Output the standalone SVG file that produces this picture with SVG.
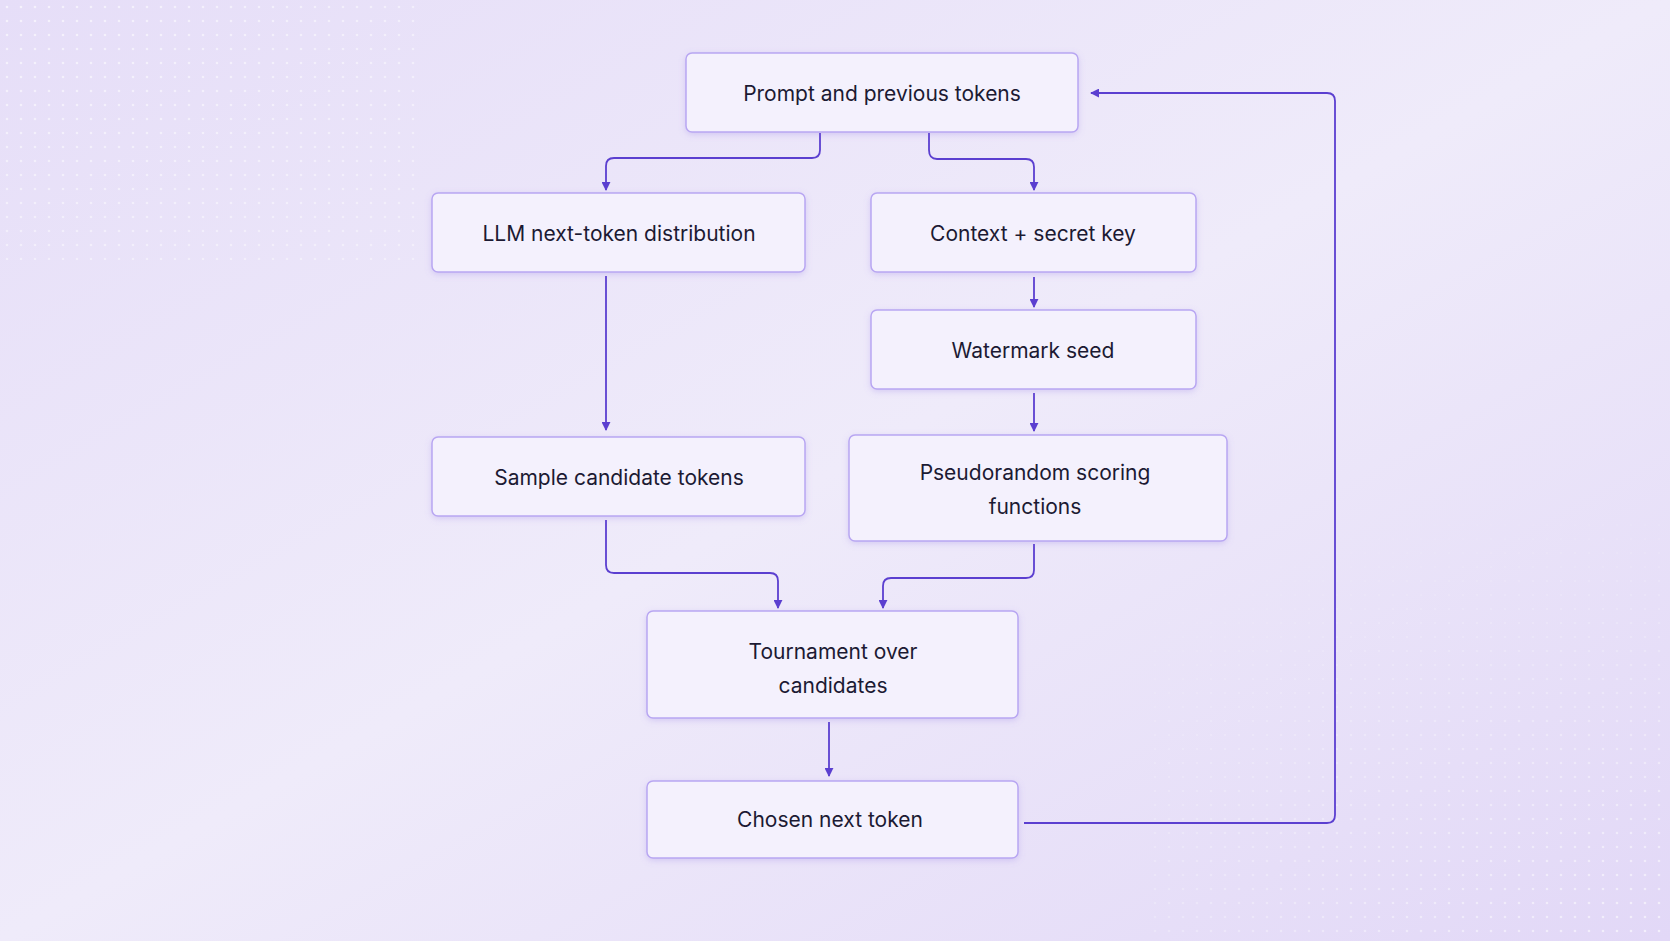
<svg xmlns="http://www.w3.org/2000/svg" width="1670" height="941" viewBox="0 0 1670 941">
<defs>
<linearGradient id="bg" x1="0" y1="0" x2="1" y2="1">
<stop offset="0" stop-color="#e6def8"/><stop offset="0.5" stop-color="#efebfa"/><stop offset="1" stop-color="#e2d8f7"/>
</linearGradient>
<pattern id="dots" width="14" height="14" patternUnits="userSpaceOnUse"><circle cx="7" cy="7" r="1.3" fill="#ffffff" opacity="0.6"/></pattern>
<radialGradient id="f1" cx="0" cy="0" r="1"><stop offset="0" stop-color="#fff" stop-opacity="1"/><stop offset="1" stop-color="#fff" stop-opacity="0"/></radialGradient>
<mask id="m1"><rect width="1670" height="941" fill="url(#f1)"/></mask>
<radialGradient id="f2" cx="1" cy="1" r="0.5"><stop offset="0" stop-color="#fff"/><stop offset="1" stop-color="#fff" stop-opacity="0"/></radialGradient>
<mask id="m2"><rect width="1670" height="941" fill="url(#f2)"/></mask>
<marker id="ar" viewBox="0 0 10 10" refX="9" refY="5" markerWidth="9" markerHeight="9" markerUnits="userSpaceOnUse" orient="auto"><path d="M0,0 L10,5 L0,10 z" fill="#5b3fd0"/></marker>
<filter id="sh" x="-10%" y="-20%" width="120%" height="140%"><feDropShadow dx="0" dy="2" stdDeviation="3" flood-color="#8a70e0" flood-opacity="0.25"/></filter>
</defs>
<style>
.n rect{fill:#f4f1fd;stroke:#b8a6f2;stroke-width:1.5;filter:url(#sh)}
.n text{font-family:Inter,"Liberation Sans",sans-serif;font-size:21px;fill:#1c1a33;text-anchor:middle;dominant-baseline:central}
.c path{fill:none;stroke:#5b3fd0;stroke-width:1.8;marker-end:url(#ar)}
</style>
<rect width="1670" height="941" fill="url(#bg)"/>
<rect width="420" height="260" fill="url(#dots)" mask="url(#m1)"/>
<rect x="1150" y="520" width="520" height="421" fill="url(#dots)" mask="url(#m2)"/>
<g class="c">
<path d="M820,133 V150 Q820,158 812,158 H614 Q606,158 606,166 V190"/>
<path d="M929,133 V150 Q929,159 937,159 H1026 Q1034,159 1034,167 V190"/>
<path d="M606,276 V430"/>
<path d="M1034,277 V307"/>
<path d="M1034,393 V431"/>
<path d="M606,520 V565 Q606,573 614,573 H770 Q778,573 778,581 V608"/>
<path d="M1034,544 V570 Q1034,578 1026,578 H891 Q883,578 883,586 V608"/>
<path d="M829,722 V776"/>
<path d="M1024,823 H1327 Q1335,823 1335,815 V101 Q1335,93 1327,93 H1091"/>
</g>
<g id="n1" class="n"><rect x="686" y="53" width="392" height="79" rx="6"/><text x="882" y="93">Prompt and previous tokens</text></g>
<g id="n2" class="n"><rect x="432" y="193" width="373" height="79" rx="6"/><text x="619" y="233">LLM next-token distribution</text></g>
<g id="n3" class="n"><rect x="871" y="193" width="325" height="79" rx="6"/><text x="1033" y="233">Context + secret key</text></g>
<g id="n4" class="n"><rect x="871" y="310" width="325" height="79" rx="6"/><text x="1033" y="350">Watermark seed</text></g>
<g id="n5" class="n"><rect x="432" y="437" width="373" height="79" rx="6"/><text x="619" y="477">Sample candidate tokens</text></g>
<g id="n6" class="n"><rect x="849" y="435" width="378" height="106" rx="6"/><text x="1035" y="472">Pseudorandom scoring</text><text x="1035" y="506">functions</text></g>
<g id="n7" class="n"><rect x="647" y="611" width="371" height="107" rx="6"/><text x="833" y="651">Tournament over</text><text x="833" y="685">candidates</text></g>
<g id="n8" class="n"><rect x="647" y="781" width="371" height="77" rx="6"/><text x="830" y="819">Chosen next token</text></g>
</svg>
